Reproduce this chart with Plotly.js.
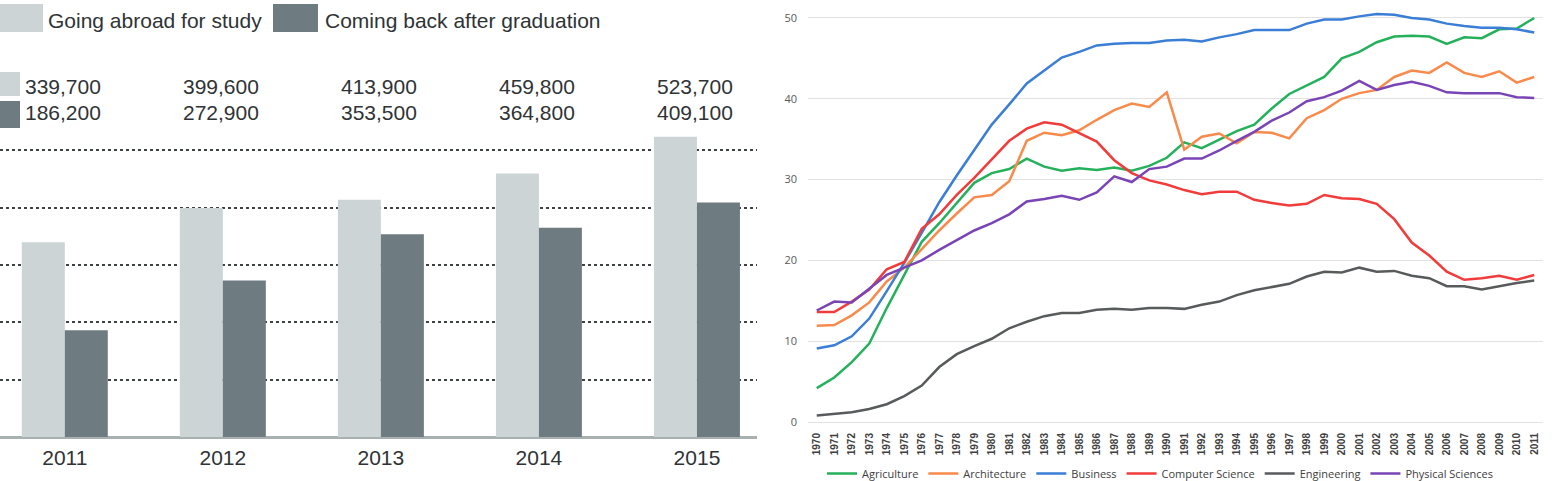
<!DOCTYPE html>
<html>
<head>
<meta charset="utf-8">
<script src="https://cdn.plot.ly/plotly-3.0.1.min.js"></script>
<style>
  html, body { margin: 0; padding: 0; background: #ffffff; }
  #chart { width: 1556px; height: 481px; }
</style>
</head>
<body>
<div id="chart"></div>
<script>
// Students going abroad for study and coming back after graduation
const studyYears = ['2011', '2012', '2013', '2014', '2015'];
const goingAbroad = [339700, 399600, 413900, 459800, 523700];
const comingBack = [186200, 272900, 353500, 364800, 409100];

// Percentage of bachelor's degrees earned by women, by field
const degreeYears = ['1970', '1971', '1972', '1973', '1974', '1975', '1976', '1977', '1978', '1979',
  '1980', '1981', '1982', '1983', '1984', '1985', '1986', '1987', '1988', '1989',
  '1990', '1991', '1992', '1993', '1994', '1995', '1996', '1997', '1998', '1999',
  '2000', '2001', '2002', '2003', '2004', '2005', '2006', '2007', '2008', '2009',
  '2010', '2011'];
const agriculture = [4.2, 5.5, 7.4, 9.7, 14.1, 18.3, 22.3, 24.6, 27.1, 29.6,
  30.8, 31.3, 32.6, 31.6, 31.1, 31.4, 31.2, 31.5, 31.1, 31.7,
  32.7, 34.6, 33.9, 34.9, 36.0, 36.8, 38.8, 40.6, 41.7, 42.7,
  45.0, 45.8, 47.0, 47.7, 47.8, 47.7, 46.8, 47.6, 47.5, 48.6,
  48.7, 50.0];
const architecture = [11.9, 12.0, 13.2, 14.8, 17.4, 19.1, 21.4, 23.7, 25.8, 27.8,
  28.1, 29.8, 34.8, 35.8, 35.5, 36.1, 37.4, 38.6, 39.4, 39.0,
  40.8, 33.7, 35.3, 35.7, 34.5, 35.9, 35.8, 35.1, 37.6, 38.6,
  40.0, 40.7, 41.1, 42.7, 43.5, 43.2, 44.5, 43.2, 42.7, 43.4,
  42.0, 42.7];
const business = [9.1, 9.5, 10.6, 12.8, 16.2, 19.7, 23.4, 27.2, 30.5, 33.6,
  36.8, 39.3, 41.9, 43.5, 45.1, 45.8, 46.6, 46.8, 46.9, 46.9,
  47.2, 47.3, 47.1, 47.6, 48.0, 48.5, 48.5, 48.5, 49.3, 49.8,
  49.8, 50.2, 50.5, 50.4, 50.0, 49.8, 49.3, 49.0, 48.8, 48.8,
  48.6, 48.2];
const computerScience = [13.6, 13.6, 14.9, 16.4, 18.9, 19.8, 23.9, 25.7, 28.1, 30.2,
  32.5, 34.8, 36.3, 37.1, 36.8, 35.7, 34.7, 32.4, 30.8, 29.9,
  29.4, 28.7, 28.2, 28.5, 28.5, 27.5, 27.1, 26.8, 27.0, 28.1,
  27.7, 27.6, 27.0, 25.1, 22.2, 20.6, 18.6, 17.6, 17.8, 18.1,
  17.6, 18.2];
const engineering = [0.8, 1.0, 1.2, 1.6, 2.2, 3.2, 4.5, 6.8, 8.4, 9.4,
  10.3, 11.6, 12.4, 13.1, 13.5, 13.5, 13.9, 14.0, 13.9, 14.1,
  14.1, 14.0, 14.5, 14.9, 15.7, 16.3, 16.7, 17.1, 18.0, 18.6,
  18.5, 19.1, 18.6, 18.7, 18.1, 17.8, 16.8, 16.8, 16.4, 16.8,
  17.2, 17.5];
const physicalSciences = [13.8, 14.9, 14.8, 16.5, 18.2, 19.1, 20.0, 21.3, 22.5, 23.7,
  24.6, 25.7, 27.3, 27.6, 28.0, 27.5, 28.4, 30.4, 29.7, 31.3,
  31.6, 32.6, 32.6, 33.6, 34.8, 35.9, 37.3, 38.3, 39.7, 40.2,
  41.0, 42.2, 41.1, 41.7, 42.1, 41.6, 40.8, 40.7, 40.7, 40.7,
  40.2, 40.1];

const W = 1556, H = 481;
const px = x => x / W;          // pixel column -> paper x
const py = y => 1 - y / H;      // pixel row -> paper y

const SANS = 'Liberation Sans, Arial, sans-serif';
const LIGHT = '#ccd4d6';
const DARK = '#6e7b80';
const TEXT = '#2f3335';

const fmt = v => v.toLocaleString('en-US');

const traces = [
  {
    type: 'bar', name: 'Going abroad for study',
    x: studyYears, y: goingAbroad, xaxis: 'x', yaxis: 'y',
    marker: { color: LIGHT, line: { width: 0 } },
    showlegend: false, hoverinfo: 'skip'
  },
  {
    type: 'bar', name: 'Coming back after graduation',
    x: studyYears, y: comingBack, xaxis: 'x', yaxis: 'y',
    marker: { color: DARK, line: { width: 0 } },
    showlegend: false, hoverinfo: 'skip'
  }
];

const fields = [
  ['Agriculture', agriculture, '#25b15c'],
  ['Architecture', architecture, '#f88a4b'],
  ['Business', business, '#3a7ed6'],
  ['Computer Science', computerScience, '#f23b3b'],
  ['Engineering', engineering, '#575b5c'],
  ['Physical Sciences', physicalSciences, '#7945b6']
];
fields.forEach(([name, values, color]) => {
  traces.push({
    type: 'scatter', mode: 'lines', name: name,
    x: degreeYears, y: values, xaxis: 'x2', yaxis: 'y2',
    line: { color: color, width: 2.5 },
    hoverinfo: 'skip'
  });
});

// Legend swatches and value rows for the bar panel
const shapes = [
  { type: 'rect', xref: 'paper', yref: 'paper', x0: px(0), x1: px(43), y0: py(32), y1: py(4),
    fillcolor: LIGHT, line: { width: 0 } },
  { type: 'rect', xref: 'paper', yref: 'paper', x0: px(273), x1: px(318), y0: py(32), y1: py(4),
    fillcolor: DARK, line: { width: 0 } },
  { type: 'rect', xref: 'paper', yref: 'paper', x0: px(0), x1: px(20), y0: py(96), y1: py(72),
    fillcolor: LIGHT, line: { width: 0 } },
  { type: 'rect', xref: 'paper', yref: 'paper', x0: px(0), x1: px(20), y0: py(128), y1: py(101),
    fillcolor: DARK, line: { width: 0 } }
];

const annotations = [
  { xref: 'paper', yref: 'paper', x: px(46), y: py(20), xanchor: 'left', yanchor: 'middle',
    text: 'Going abroad for study', showarrow: false,
    font: { family: SANS, size: 21, color: TEXT } },
  { xref: 'paper', yref: 'paper', x: px(323), y: py(20), xanchor: 'left', yanchor: 'middle',
    text: 'Coming back after graduation', showarrow: false,
    font: { family: SANS, size: 21, color: TEXT } }
];
studyYears.forEach((yr, i) => {
  annotations.push({
    xref: 'x', yref: 'paper', x: i - 0.265, y: py(86), xanchor: 'left', yanchor: 'middle',
    text: fmt(goingAbroad[i]), showarrow: false,
    font: { family: SANS, size: 21, color: TEXT }
  });
  annotations.push({
    xref: 'x', yref: 'paper', x: i - 0.265, y: py(113), xanchor: 'left', yanchor: 'middle',
    text: fmt(comingBack[i]), showarrow: false,
    font: { family: SANS, size: 21, color: TEXT }
  });
});

const layout = {
  width: W, height: H,
  margin: { l: 0, r: 0, t: 0, b: 0, autoexpand: false },
  paper_bgcolor: '#ffffff',
  plot_bgcolor: 'rgba(0,0,0,0)',
  barmode: 'group', bargap: 0.456, bargroupgap: 0,
  showlegend: true,
  legend: {
    orientation: 'h', x: px(822), xanchor: 'left', y: py(459), yanchor: 'top',
    font: { family: 'Open Sans, Liberation Sans, sans-serif', size: 11, color: '#404040' },
    bgcolor: 'rgba(0,0,0,0)', itemclick: false, itemdoubleclick: false
  },
  xaxis: {
    domain: [0, px(757)], anchor: 'y', type: 'category',
    range: [-0.41, 4.38],
    showgrid: false, zeroline: false, showline: false, ticks: '',
    ticklabelstandoff: 6,
    tickfont: { family: SANS, size: 21, color: TEXT },
    fixedrange: true
  },
  yaxis: {
    domain: [py(437), py(128)], anchor: 'x',
    range: [0, 539000], tick0: 0, dtick: 100000,
    showgrid: true, gridcolor: '#3d4244', gridwidth: 2, griddash: 'dot',
    zeroline: true, zerolinecolor: '#a9b0b2', zerolinewidth: 3,
    showticklabels: false, ticks: '', showline: false,
    fixedrange: true
  },
  xaxis2: {
    domain: [px(808), px(1543)], anchor: 'y2', type: 'category',
    range: [-0.5, 41.5],
    showgrid: false, zeroline: false, showline: false, ticks: '',
    tickangle: -90, ticklabelstandoff: 8,
    tickfont: { family: SANS, size: 10, color: '#404040', weight: 'bold' },
    fixedrange: true
  },
  yaxis2: {
    domain: [py(422), py(9.9)], anchor: 'x2',
    range: [0, 51], tick0: 0, dtick: 10,
    showgrid: true, gridcolor: '#e2e2e2', gridwidth: 1,
    zeroline: true, zerolinecolor: '#e2e2e2', zerolinewidth: 1,
    showline: false, ticks: '', ticklabelstandoff: 10,
    tickfont: { family: 'Open Sans, Liberation Sans, sans-serif', size: 11, color: '#595959' },
    fixedrange: true
  },
  shapes: shapes,
  annotations: annotations
};

Plotly.newPlot('chart', traces, layout, { staticPlot: true, displayModeBar: false });
</script>
</body>
</html>
